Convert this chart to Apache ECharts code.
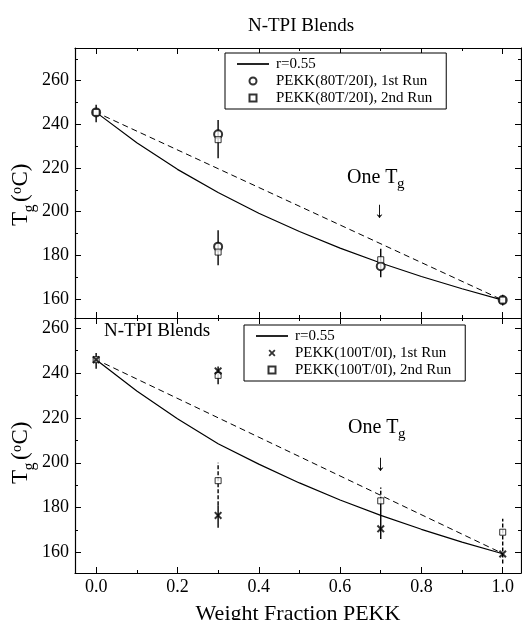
<!DOCTYPE html>
<html><head><meta charset="utf-8">
<script src="https://cdn.jsdelivr.net/npm/echarts@6/dist/echarts.min.js"></script>
<style>html,body{margin:0;padding:0;background:#fff}#c{width:522px;height:620px}</style>
</head><body><div id="c"></div>
<script>
// ---- tick labels ----
const xTicks = [0, 0.2, 0.4, 0.6, 0.8, 1.0];
const xTickLabels = ['0.0', '0.2', '0.4', '0.6', '0.8', '1.0'];
const xMinorTicks = [0.1, 0.3, 0.5, 0.7, 0.9];
const yTicks = [160, 180, 200, 220, 240, 260];
const yTickLabels = ['160', '180', '200', '220', '240', '260'];
const yMinorTop = [170, 190, 210, 230, 250, 270];
const yMinorBottom = [170, 190, 210, 230, 250];

// ---- fit curves (r=0.55) ----
const fitX = [0, 0.1, 0.2, 0.3, 0.4, 0.5, 0.6, 0.7, 0.8, 0.9, 1.0];
const fitTop = [245.5, 231.6, 219.4, 208.8, 199.3, 190.9, 183.3, 176.5, 170.3, 164.7, 159.5];
const fitBottom = [246, 232, 219.6, 208.5, 199.4, 191, 183.4, 176.5, 170.3, 164.6, 159.4];
// ---- dashed straight lines ----
const linX = [0.02, 1.0];
const linTop = [243.8, 159.5];
const linBottom = [244.3, 159.5];

// ---- top panel: PEKK(80T/20I) ----
const top1stX = [0, 0.3, 0.3, 0.7, 1.0];
const top1stY = [245.5, 235.5, 184, 175, 159.5];
const top2ndX = [0, 0.3, 0.3, 0.7, 1.0];
const top2ndY = [245.5, 233, 181.5, 178, 159.5];
const topErrX = [0, 0.3, 0.3, 0.7, 1.0];
const topErrLo = [241, 224.5, 175.5, 170, 157];
const topErrHi = [249, 242, 191.5, 183, 162];

// ---- bottom panel: PEKK(100T/0I) ----
const bot1stX = [0, 0.3, 0.3, 0.7, 1.0];
const bot1stY = [246, 241, 176.5, 170.5, 159.3];
const bot2ndX = [0, 0.3, 0.3, 0.7, 1.0];
const bot2ndY = [246, 239, 192, 183, 169];
const botErrX = [0, 0.3, 0.3, 0.7];
const botErrLo = [242, 235, 171, 166];
const botErrHi = [249, 243, 181, 183];
const botErrDashX = [0.3, 0.7, 1.0];
const botErrDashLo = [181, 183, 155];
const botErrDashHi = [200, 189, 175];

const zip2 = (a, b) => a.map((v, i) => [v, b[i]]);
const zip3 = (a, b, c) => a.map((v, i) => [v, b[i], c[i]]);

const SERIF = 'Liberation Serif';
const X_MIN = -0.052, X_MAX = 1.045;
const Y_RANGE = [[151.3, 275], [150.8, 264.6]];

function lab(vals, labels) {
  return v => { const i = vals.findIndex(t => Math.abs(t - v) < 1e-6); return i >= 0 ? labels[i] : ''; };
}
function xAx(g, pos, vals, len, line, labels) {
  return {
    type: 'value', gridIndex: g, position: pos, min: X_MIN, max: X_MAX,
    axisLine: { show: line, onZero: false, lineStyle: { color: '#000', width: 1.2 } },
    axisTick: { show: true, inside: true, length: len, customValues: vals, lineStyle: { color: '#000', width: 1 } },
    axisLabel: labels ? { show: true, customValues: vals, formatter: lab(vals, labels), color: '#000', fontFamily: SERIF, fontSize: 18, margin: 5 } : { show: false },
    splitLine: { show: false }
  };
}
function yAx(g, pos, vals, len, line, labels) {
  return {
    type: 'value', gridIndex: g, position: pos, min: Y_RANGE[g][0], max: Y_RANGE[g][1],
    axisLine: { show: line, onZero: false, lineStyle: { color: '#000', width: 1.2 } },
    axisTick: { show: true, inside: true, length: len, customValues: vals, lineStyle: { color: '#000', width: 1 } },
    axisLabel: labels ? { show: true, customValues: vals, formatter: lab(vals, labels), color: '#000', fontFamily: SERIF, fontSize: 18, margin: 6 } : { show: false },
    splitLine: { show: false }
  };
}

const xAxes = [], yAxes = [];
[0, 1].forEach(g => {
  xAxes.push(xAx(g, 'bottom', xTicks, 6, true, g === 1 ? xTickLabels : null));
  xAxes.push(xAx(g, 'bottom', xMinorTicks, 3, false, null));
  xAxes.push(xAx(g, 'top', xTicks, 6, true, null));
  xAxes.push(xAx(g, 'top', xMinorTicks, 3, false, null));
  const minor = g === 0 ? yMinorTop : yMinorBottom;
  yAxes.push(yAx(g, 'left', yTicks, 6, true, yTickLabels));
  yAxes.push(yAx(g, 'left', minor, 3, false, null));
  yAxes.push(yAx(g, 'right', yTicks, 6, true, null));
  yAxes.push(yAx(g, 'right', minor, 3, false, null));
});
xAxes[4].name = 'Weight Fraction PEKK';
xAxes[4].nameLocation = 'middle';
xAxes[4].nameGap = 30;
xAxes[4].nameTextStyle = { fontFamily: SERIF, fontSize: 22, color: '#000' };

function errBar(g, data, dashed) {
  return {
    type: 'custom', xAxisIndex: g * 4, yAxisIndex: g * 4, data: data, z: 3,
    encode: { x: 0, y: [1, 2] }, silent: true,
    renderItem: (params, api) => {
      const p1 = api.coord([api.value(0), api.value(1)]);
      const p2 = api.coord([api.value(0), api.value(2)]);
      return { type: 'line', shape: { x1: p1[0], y1: p1[1], x2: p2[0], y2: p2[1] },
        style: { stroke: '#000', lineWidth: 1.4, lineDash: dashed ? [4, 2] : null } };
    }
  };
}
const CROSS = 'path://M0,1.8L1.8,0L5,3.2L8.2,0L10,1.8L6.8,5L10,8.2L8.2,10L5,6.8L1.8,10L0,8.2L3.2,5Z';
const SQUARE = 'path://M0,0L10,0L10,10L0,10Z';
const LINEICON = 'path://M0,0L30,0L30,1.6L0,1.6Z';

const series = [
  // top
  { name: 'r=0.55', type: 'line', xAxisIndex: 0, yAxisIndex: 0, data: zip2(fitX, fitTop), showSymbol: false, symbol: 'none',
    itemStyle: { color: '#000' }, lineStyle: { color: '#000', width: 1.2 }, z: 2, silent: true },
  { name: 'linear', type: 'line', xAxisIndex: 0, yAxisIndex: 0, data: zip2(linX, linTop), symbol: 'none',
    itemStyle: { color: '#000' }, lineStyle: { color: '#000', width: 1, type: [6, 4] }, z: 2, silent: true },
  errBar(0, zip3(topErrX, topErrLo, topErrHi), false),
  { name: 'PEKK(80T/20I), 1st Run', type: 'scatter', xAxisIndex: 0, yAxisIndex: 0, data: zip2(top1stX, top1stY),
    symbol: 'emptyCircle', symbolSize: 8, itemStyle: { color: '#000', borderColor: '#000', borderWidth: 1 }, z: 5 },
  { name: 'PEKK(80T/20I), 2nd Run', type: 'scatter', xAxisIndex: 0, yAxisIndex: 0, data: zip2(top2ndX, top2ndY),
    symbol: SQUARE, symbolSize: 6, itemStyle: { color: '#fff', borderColor: '#000', borderWidth: 1 }, z: 5 },
  // bottom
  { name: 'r=0.55', type: 'line', xAxisIndex: 4, yAxisIndex: 4, data: zip2(fitX, fitBottom), showSymbol: false, symbol: 'none',
    itemStyle: { color: '#000' }, lineStyle: { color: '#000', width: 1.2 }, z: 2, silent: true },
  { name: 'linear2', type: 'line', xAxisIndex: 4, yAxisIndex: 4, data: zip2(linX, linBottom), symbol: 'none',
    itemStyle: { color: '#000' }, lineStyle: { color: '#000', width: 1, type: [6, 4] }, z: 2, silent: true },
  errBar(1, zip3(botErrX, botErrLo, botErrHi), false),
  errBar(1, zip3(botErrDashX, botErrDashLo, botErrDashHi), true),
  { name: 'PEKK(100T/0I), 1st Run', type: 'scatter', xAxisIndex: 4, yAxisIndex: 4, data: zip2(bot1stX, bot1stY),
    symbol: CROSS, symbolSize: 8, itemStyle: { color: '#000' }, z: 6 },
  { name: 'PEKK(100T/0I), 2nd Run', type: 'scatter', xAxisIndex: 4, yAxisIndex: 4, data: zip2(bot2ndX, bot2ndY),
    symbol: SQUARE, symbolSize: 6, itemStyle: { color: '#fff', borderColor: '#000', borderWidth: 1 }, z: 5 }
];

function legend(left, top, names) {
  return {
    data: [{ name: names[0], icon: LINEICON }, names[1], names[2]],
    left: left, top: top, orient: 'vertical', selectedMode: false,
    padding: [3, 14, 3, 12], itemGap: 1, itemWidth: 32, itemHeight: 7,
    borderColor: '#000', borderWidth: 1, backgroundColor: '#fff',
    textStyle: { fontFamily: SERIF, fontSize: 15, color: '#000', lineHeight: 16, padding: [0, 0, 0, 2] }
  };
}

function yName(x, y) {
  return {
    type: 'group', x: x, y: y, rotation: Math.PI / 2, silent: true,
    children: [
      { type: 'text', x: 0, y: 0, style: { text: 'T', fontFamily: SERIF, fontSize: 23, fill: '#000', verticalAlign: 'bottom' } },
      { type: 'text', x: 13.5, y: 6, style: { text: 'g', fontFamily: SERIF, fontSize: 16, fill: '#000', verticalAlign: 'bottom' } },
      { type: 'text', x: 24, y: 0, style: { text: '(', fontFamily: SERIF, fontSize: 23, fill: '#000', verticalAlign: 'bottom' } },
      { type: 'text', x: 32, y: -8, style: { text: 'o', fontFamily: SERIF, fontSize: 14, fill: '#000', verticalAlign: 'bottom' } },
      { type: 'text', x: 39.5, y: 0, style: { text: 'C)', fontFamily: SERIF, fontSize: 23, fill: '#000', verticalAlign: 'bottom' } }
    ]
  };
}
function oneTg(x, y) {
  return [
    { type: 'text', x: x, y: y, silent: true, style: { text: 'One T', fontFamily: SERIF, fontSize: 20, fill: '#000' } },
    { type: 'text', x: x + 50, y: y + 9, silent: true, style: { text: 'g', fontFamily: SERIF, fontSize: 15, fill: '#000' } }
  ];
}

const option = {
  backgroundColor: '#fff',
  animation: false,
  title: { text: 'N-TPI Blends', left: 296, top: 12, textAlign: 'center',
    textStyle: { fontFamily: SERIF, fontSize: 19, fontWeight: 'normal', color: '#000' } },
  grid: [
    { left: 75, top: 48, width: 446, height: 270, outerBoundsMode: 'none', containLabel: false },
    { left: 75, top: 318, width: 446, height: 255, outerBoundsMode: 'none', containLabel: false }
  ],
  xAxis: xAxes,
  yAxis: yAxes,
  legend: [
    legend(225, 53, ['r=0.55', 'PEKK(80T/20I), 1st Run', 'PEKK(80T/20I), 2nd Run']),
    legend(244, 325, ['r=0.55', 'PEKK(100T/0I), 1st Run', 'PEKK(100T/0I), 2nd Run'])
  ],
  graphic: [
    yName(32, 226),
    yName(32, 484),
    { type: 'text', x: 104, y: 322, silent: true, style: { text: 'N-TPI Blends', fontFamily: SERIF, fontSize: 19, fill: '#000' } },
    ...oneTg(347, 168),
    { type: 'text', x: 374, y: 200, silent: true, style: { text: '↓', fontFamily: SERIF, fontSize: 22, fill: '#000' } },
    ...oneTg(348, 418),
    { type: 'text', x: 375, y: 453, silent: true, style: { text: '↓', fontFamily: SERIF, fontSize: 22, fill: '#000' } }
  ],
  series: series
};
const chart = echarts.init(document.getElementById('c'), null, { renderer: 'canvas' });
chart.setOption(option);
</script>
</body></html>
